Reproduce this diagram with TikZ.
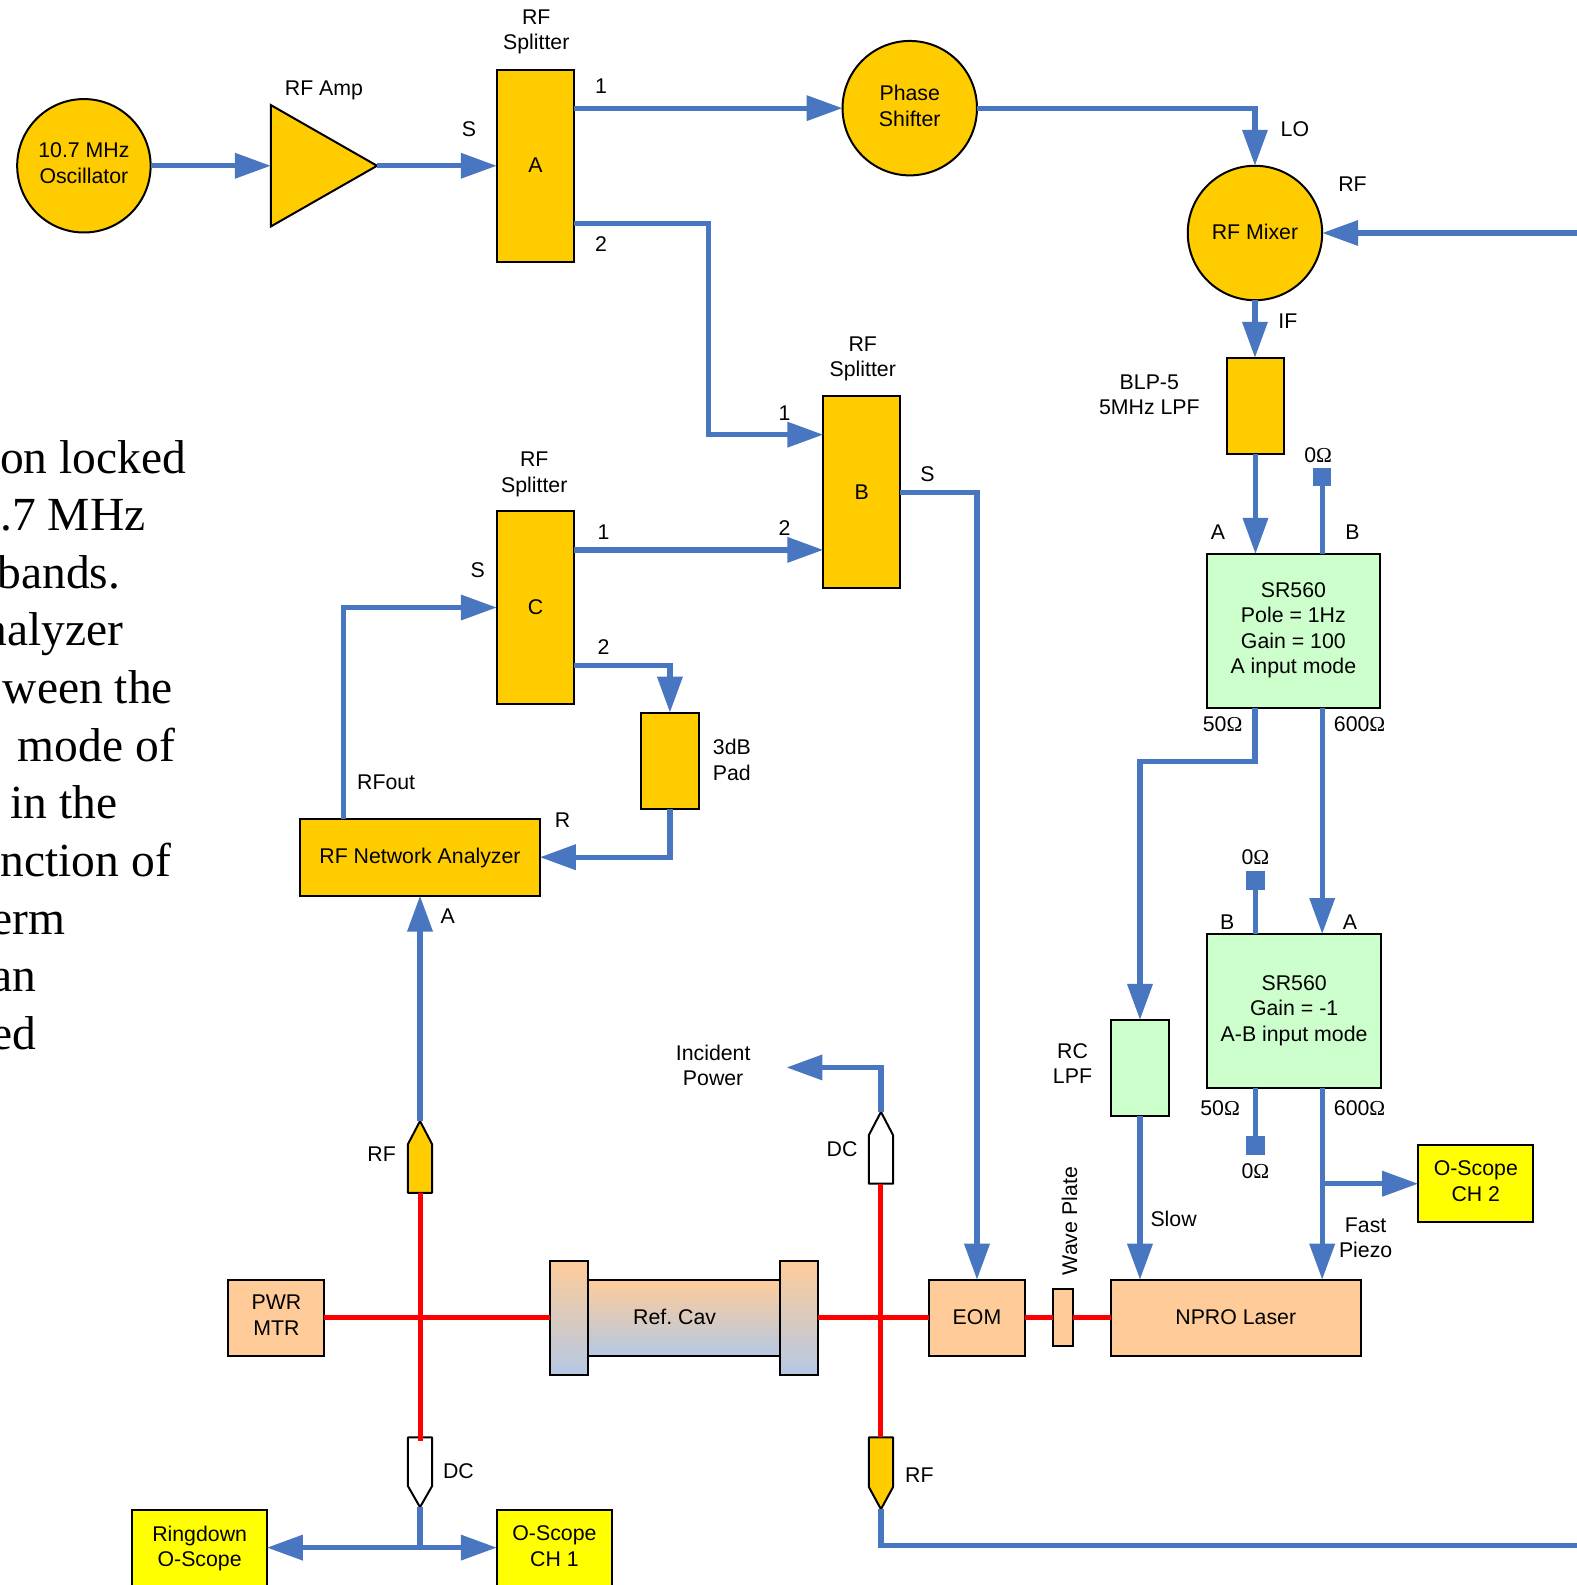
\documentclass[tikz,border=0pt]{standalone}
\usepackage{fontspec}
\usetikzlibrary{arrows.meta}
\setmainfont{Liberation Sans}
\newfontfamily\serf{Liberation Serif}
\definecolor{wireblue}{HTML}{4876C0}
\definecolor{amberfill}{HTML}{FFCC00}
\definecolor{greenfill}{HTML}{CCFFCC}
\definecolor{yellowfill}{HTML}{FFFF00}
\definecolor{peachfill}{HTML}{FFCC99}
\definecolor{cavblue}{HTML}{B4C8E4}
\newdimen\lbltop
\lbltop=20.4pt
\newcommand{\lblstrut}{\vrule height \lbltop depth 5.1pt width 0pt\relax}
\newcommand{\Om}{{\serf Ω}}
\tikzset{
  txt/.style={inner sep=0pt,outer sep=0pt,align=center,text=black,
    font=\fontsize{21.3}{25.5}\selectfont,
    execute at begin node=\lblstrut,execute at end node=\lblstrut},
  mltext/.code={\lbltop=25.4pt},
  slbox/.code={\lbltop=18.4pt},
  shapebox/.style={txt,draw=black,line width=2pt,rectangle},
  amberbox/.style={shapebox,fill=amberfill},
  greenbox/.style={shapebox,fill=greenfill},
  yellowbox/.style={shapebox,fill=yellowfill},
  peachbox/.style={shapebox,fill=peachfill},
  cavbox/.style={shapebox,top color=peachfill,bottom color=cavblue},
  roundnode/.style={txt,draw=black,line width=2pt,circle,fill=amberfill},
  wire/.style={draw=wireblue,line width=5.2pt,miter limit=10},
  arrowwire/.style={wire,-{Triangle[length=36pt,width=24.5pt]}},
  beam/.style={draw=red,line width=5pt},
  pickoff/.style={draw=black,line width=2pt,line join=round},
  term/.style={rectangle,fill=wireblue,minimum size=18.5pt,inner sep=0pt,outer sep=0pt},
  bigtxt/.style={inner sep=0pt,outer sep=0pt,anchor=base east,text=black,
    font=\serf\fontsize{47.5}{57}\selectfont},
}
\newcommand{\bxn}[7]{%
  \pgfmathsetmacro{\bw}{(#4-#2)*1.0109}%
  \pgfmathsetmacro{\bh}{(#5-#3)*1.0109}%
  \node[#6,minimum width=\bw pt,minimum height=\bh pt] (#1) at ({(#2+#4)/2},{(#3+#5)/2}) {#7};}
\newcommand{\cnd}[6]{%
  \pgfmathsetmacro{\bd}{2*#4*1.0109}%
  \node[roundnode,#6,minimum size=\bd pt] (#1) at (#2,#3) {#5};}
\newcommand{\lb}[4]{\node[txt] (#1) at (#2,#3) {#4};}
\newcommand{\lbm}[4]{\node[txt,mltext] (#1) at (#2,#3) {#4};}
\newcommand{\bg}[4]{\node[bigtxt] (#1) at (#2,#3) {#4};}
\begin{document}
\begin{tikzpicture}[x=1.0109pt,y=-1.0109pt]
\useasboundingbox (0,0) rectangle (1560,1568);
\clip (0,0) rectangle (1560,1568);

% left paragraph, cut by the picture's edge
\bg{p1}{184}{468}{on locked}
\bg{p2}{144}{525}{.7 MHz}
\bg{p3}{119}{582}{bands.}
\bg{p4}{122}{639}{nalyzer}
\bg{p5}{171}{696}{ween the}
\bg{p6}{173}{753}{mode of}
\bg{p7}{116}{810}{in the}
\bg{p8}{169}{867}{nction of}
\bg{p9}{65}{924}{erm}
\bg{p10}{36}{981}{an}
\bg{p11}{36}{1038}{ed}

% amplifier triangle
\coordinate (ampin) at (268,164);
\coordinate (ampout) at (373,164);
\draw[draw=black,line width=2pt,fill=amberfill] (268,104) -- (ampout) -- (268,224) -- cycle;

% round nodes
\cnd{osc}{83}{164}{66}{10.7 MHz\\Oscillator}{mltext}
\cnd{phase}{900}{107}{66.5}{Phase\\Shifter}{mltext}
\cnd{mixer}{1241.5}{230.5}{66.5}{RF Mixer}{slbox}

% boxes
\bxn{A}{491.5}{69}{568}{259}{amberbox,slbox}{A}
\bxn{B}{814.5}{392}{890.5}{582}{amberbox}{B}
\bxn{C}{491.5}{506}{568}{696}{amberbox,slbox}{C}
\bxn{pad}{634}{705}{691.5}{800.5}{amberbox}{}
\bxn{na}{297}{810}{534}{886}{amberbox,slbox}{RF Network Analyzer}
\bxn{blp}{1213.5}{354}{1270.5}{449}{amberbox}{}
\bxn{srone}{1194}{548}{1365}{700}{greenbox,mltext}{SR560\\Pole = 1Hz\\Gain = 100\\A input mode}
\bxn{srtwo}{1194}{924}{1366.5}{1076}{greenbox,mltext}{SR560\\Gain = -1\\A-B input mode}
\bxn{rc}{1099}{1009}{1156.5}{1104.5}{greenbox}{}
\bxn{chtwo}{1403}{1133}{1517}{1209}{yellowbox,mltext}{O-Scope\\CH 2}
\bxn{npro}{1099}{1266}{1346}{1341.5}{peachbox,slbox}{NPRO Laser}
\bxn{wp}{1042}{1275.5}{1061}{1332}{peachbox}{}
\bxn{eom}{919}{1266}{1014}{1341.5}{peachbox,slbox}{EOM}
\bxn{body}{582}{1266}{771.5}{1341.5}{cavbox,slbox}{\hspace*{-19pt}Ref.\ Cav}
\bxn{flangeL}{544}{1247}{582}{1360.5}{cavbox}{}
\bxn{flangeR}{771.5}{1247}{809.5}{1360.5}{cavbox}{}
\bxn{pwr}{226}{1266}{321}{1341.5}{peachbox,mltext}{PWR\\MTR}
\bxn{ring}{131}{1494}{264}{1570}{yellowbox,mltext}{Ringdown\\O-Scope}
\bxn{chone}{491.5}{1494}{605.5}{1570}{yellowbox,mltext}{O-Scope\\CH 1}

% 0 ohm terminators
\node[term] (tzero) at (1308,472) {};
\node[term] (tb) at (1242,871) {};
\node[term] (tc) at (1242,1133) {};

% pick-off detectors
\coordinate (rftip) at (415.5,1109);
\coordinate (rfbase) at (415.5,1180);
\coordinate (dcutip) at (871.5,1100);
\coordinate (dcubase) at (871.5,1171);
\coordinate (dcltop) at (415.5,1422);
\coordinate (dcltip) at (415.5,1491);
\coordinate (rfltop) at (871.5,1422);
\coordinate (rfltip) at (871.5,1493);
\draw[pickoff,fill=amberfill] (403.5,1180) -- (403.5,1132) -- (rftip) -- (427.5,1132) -- (427.5,1180) -- cycle;
\draw[pickoff,fill=white] (859.5,1171) -- (859.5,1123) -- (dcutip) -- (883.5,1123) -- (883.5,1171) -- cycle;
\draw[pickoff,fill=white] (403.5,1422) -- (403.5,1470) -- (dcltip) -- (427.5,1470) -- (427.5,1422) -- cycle;
\draw[pickoff,fill=amberfill] (859.5,1422) -- (859.5,1471) -- (rfltip) -- (883.5,1471) -- (883.5,1422) -- cycle;

% free ends and junctions
\coordinate (rfin) at (1560,230.5);
\coordinate (rfout) at (1560,1529);
\coordinate (inc) at (778,1056);
\coordinate (junc) at (415.5,1531);
\coordinate (branch) at (1308,1171);

% wires
\draw[arrowwire] (osc.east) -- (ampin);
\draw[arrowwire] (ampout) -- (A.west |- ampout);
\draw[arrowwire] (A.east |- phase.west) -- (phase.west);
\draw[arrowwire] (phase.east) -| (mixer.north);
\draw[arrowwire] (A.east |- 0,221) -- (701,221) -- (701,430) -- (B.west |- 0,430);
\draw[arrowwire] (C.east |- 0,544) -- (B.west |- 0,544);
\draw[arrowwire] (B.east) -- (eom.north |- B.east) -- (eom.north);
\draw[arrowwire] (rfin) -- (mixer.east);
\draw[arrowwire] (mixer.south) -- (mixer.south |- blp.north);
\draw[arrowwire] (blp.south) -- (blp.south |- srone.north);
\draw[wire] (tzero) -- (tzero |- srone.north);
\draw[arrowwire] (tzero |- srone.south) -- (tzero |- srtwo.north);
\draw[arrowwire] (mixer.south |- srone.south) -- (1241.5,753) -- (rc.north |- 0,753) -- (rc.north);
\draw[arrowwire] (C.east |- 0,658) -- (pad.north |- 0,658) -- (pad.north);
\draw[arrowwire] (pad.south) -- (pad.south |- na.east) -- (na.east);
\draw[arrowwire] (340,810) -- (340,601) -- (C.west);
\draw[arrowwire] (rftip) -- (na.south);
\draw[arrowwire] (dcutip) -- (871.5,1056) -- (inc);
\draw[wire] (tb) -- (tb |- srtwo.north);
\draw[wire] (tc |- srtwo.south) -- (tc);
\draw[arrowwire] (tzero |- srtwo.south) -- (tzero |- npro.north);
\draw[arrowwire] (branch) -- (branch -| chtwo.west);
\draw[arrowwire] (rc.south) -- (rc.south |- npro.north);
\draw[wire] (dcltip) -- (junc);
\draw[arrowwire] (junc) -- (ring.east |- junc);
\draw[arrowwire] (junc) -- (chone.west |- junc);
\draw[wire,line join=miter] (rfltip) -- (871.5,1529) -- (rfout);

% beams
\draw[beam] (pwr.east) -- (flangeL.west);
\draw[beam] (rfbase) -- (415.5,1426);
\draw[beam] (flangeR.east) -- (eom.west);
\draw[beam] (dcubase) -- (rfltop);
\draw[beam] (eom.east) -- (wp.west);
\draw[beam] (wp.east) -- (npro.west);

% labels
\lbm{la}{530.5}{32}{RF\\Splitter}
\lb{lb}{320.5}{87}{RF Amp}
\lb{lc}{464}{127}{S}
\lb{ld}{594.5}{85}{1}
\lb{le}{594.5}{241}{2}
\lb{lf}{1281}{127}{LO}
\lb{lg}{1338}{181.5}{RF}
\lb{lh}{1274}{317}{IF}
\lbm{li}{853.5}{355.5}{RF\\Splitter}
\lb{lj}{776}{408}{1}
\lb{lk}{776}{522}{2}
\lb{ll}{917.5}{469}{S}
\lbm{lm}{528.5}{469.5}{RF\\Splitter}
\lb{ln}{472.5}{564}{S}
\lb{lo}{597}{526}{1}
\lb{lp}{597}{640}{2}
\lbm{lq}{1137}{393}{BLP-5\\5MHz LPF}
\lb{lr}{1304}{450}{0\Om}
\lb{ls}{1205}{526}{A}
\lb{lt}{1338}{526}{B}
\lb{lu}{1209.5}{716}{50\Om}
\lb{lv}{1345}{716}{600\Om}
\lb{lw}{1242}{848}{0\Om}
\lb{lx}{1214}{912}{B}
\lb{ly}{1335.5}{912}{A}
\lbm{lz}{724}{754}{3dB\\Pad}
\lb{maa}{382}{773}{RFout}
\lb{mab}{556.5}{811}{R}
\lb{mac}{443}{906}{A}
\lbm{mad}{1061}{1054.5}{RC\\LPF}
\lb{mae}{1207}{1096}{50\Om}
\lb{maf}{1345}{1096}{600\Om}
\lb{mag}{1242}{1158}{0\Om}
\lb{mah}{1161}{1206}{Slow}
\lbm{mai}{1351}{1227}{Fast\\Piezo}
\node[txt,rotate=90] (maj) at (1058,1208) {Wave Plate};
\lbm{mak}{705.5}{1056.5}{Incident\\Power}
\lb{mal}{833}{1137}{DC}
\lb{mam}{377.5}{1141}{RF}
\lb{man}{453.5}{1455}{DC}
\lb{mao}{909.5}{1459}{RF}
\end{tikzpicture}
\end{document}
